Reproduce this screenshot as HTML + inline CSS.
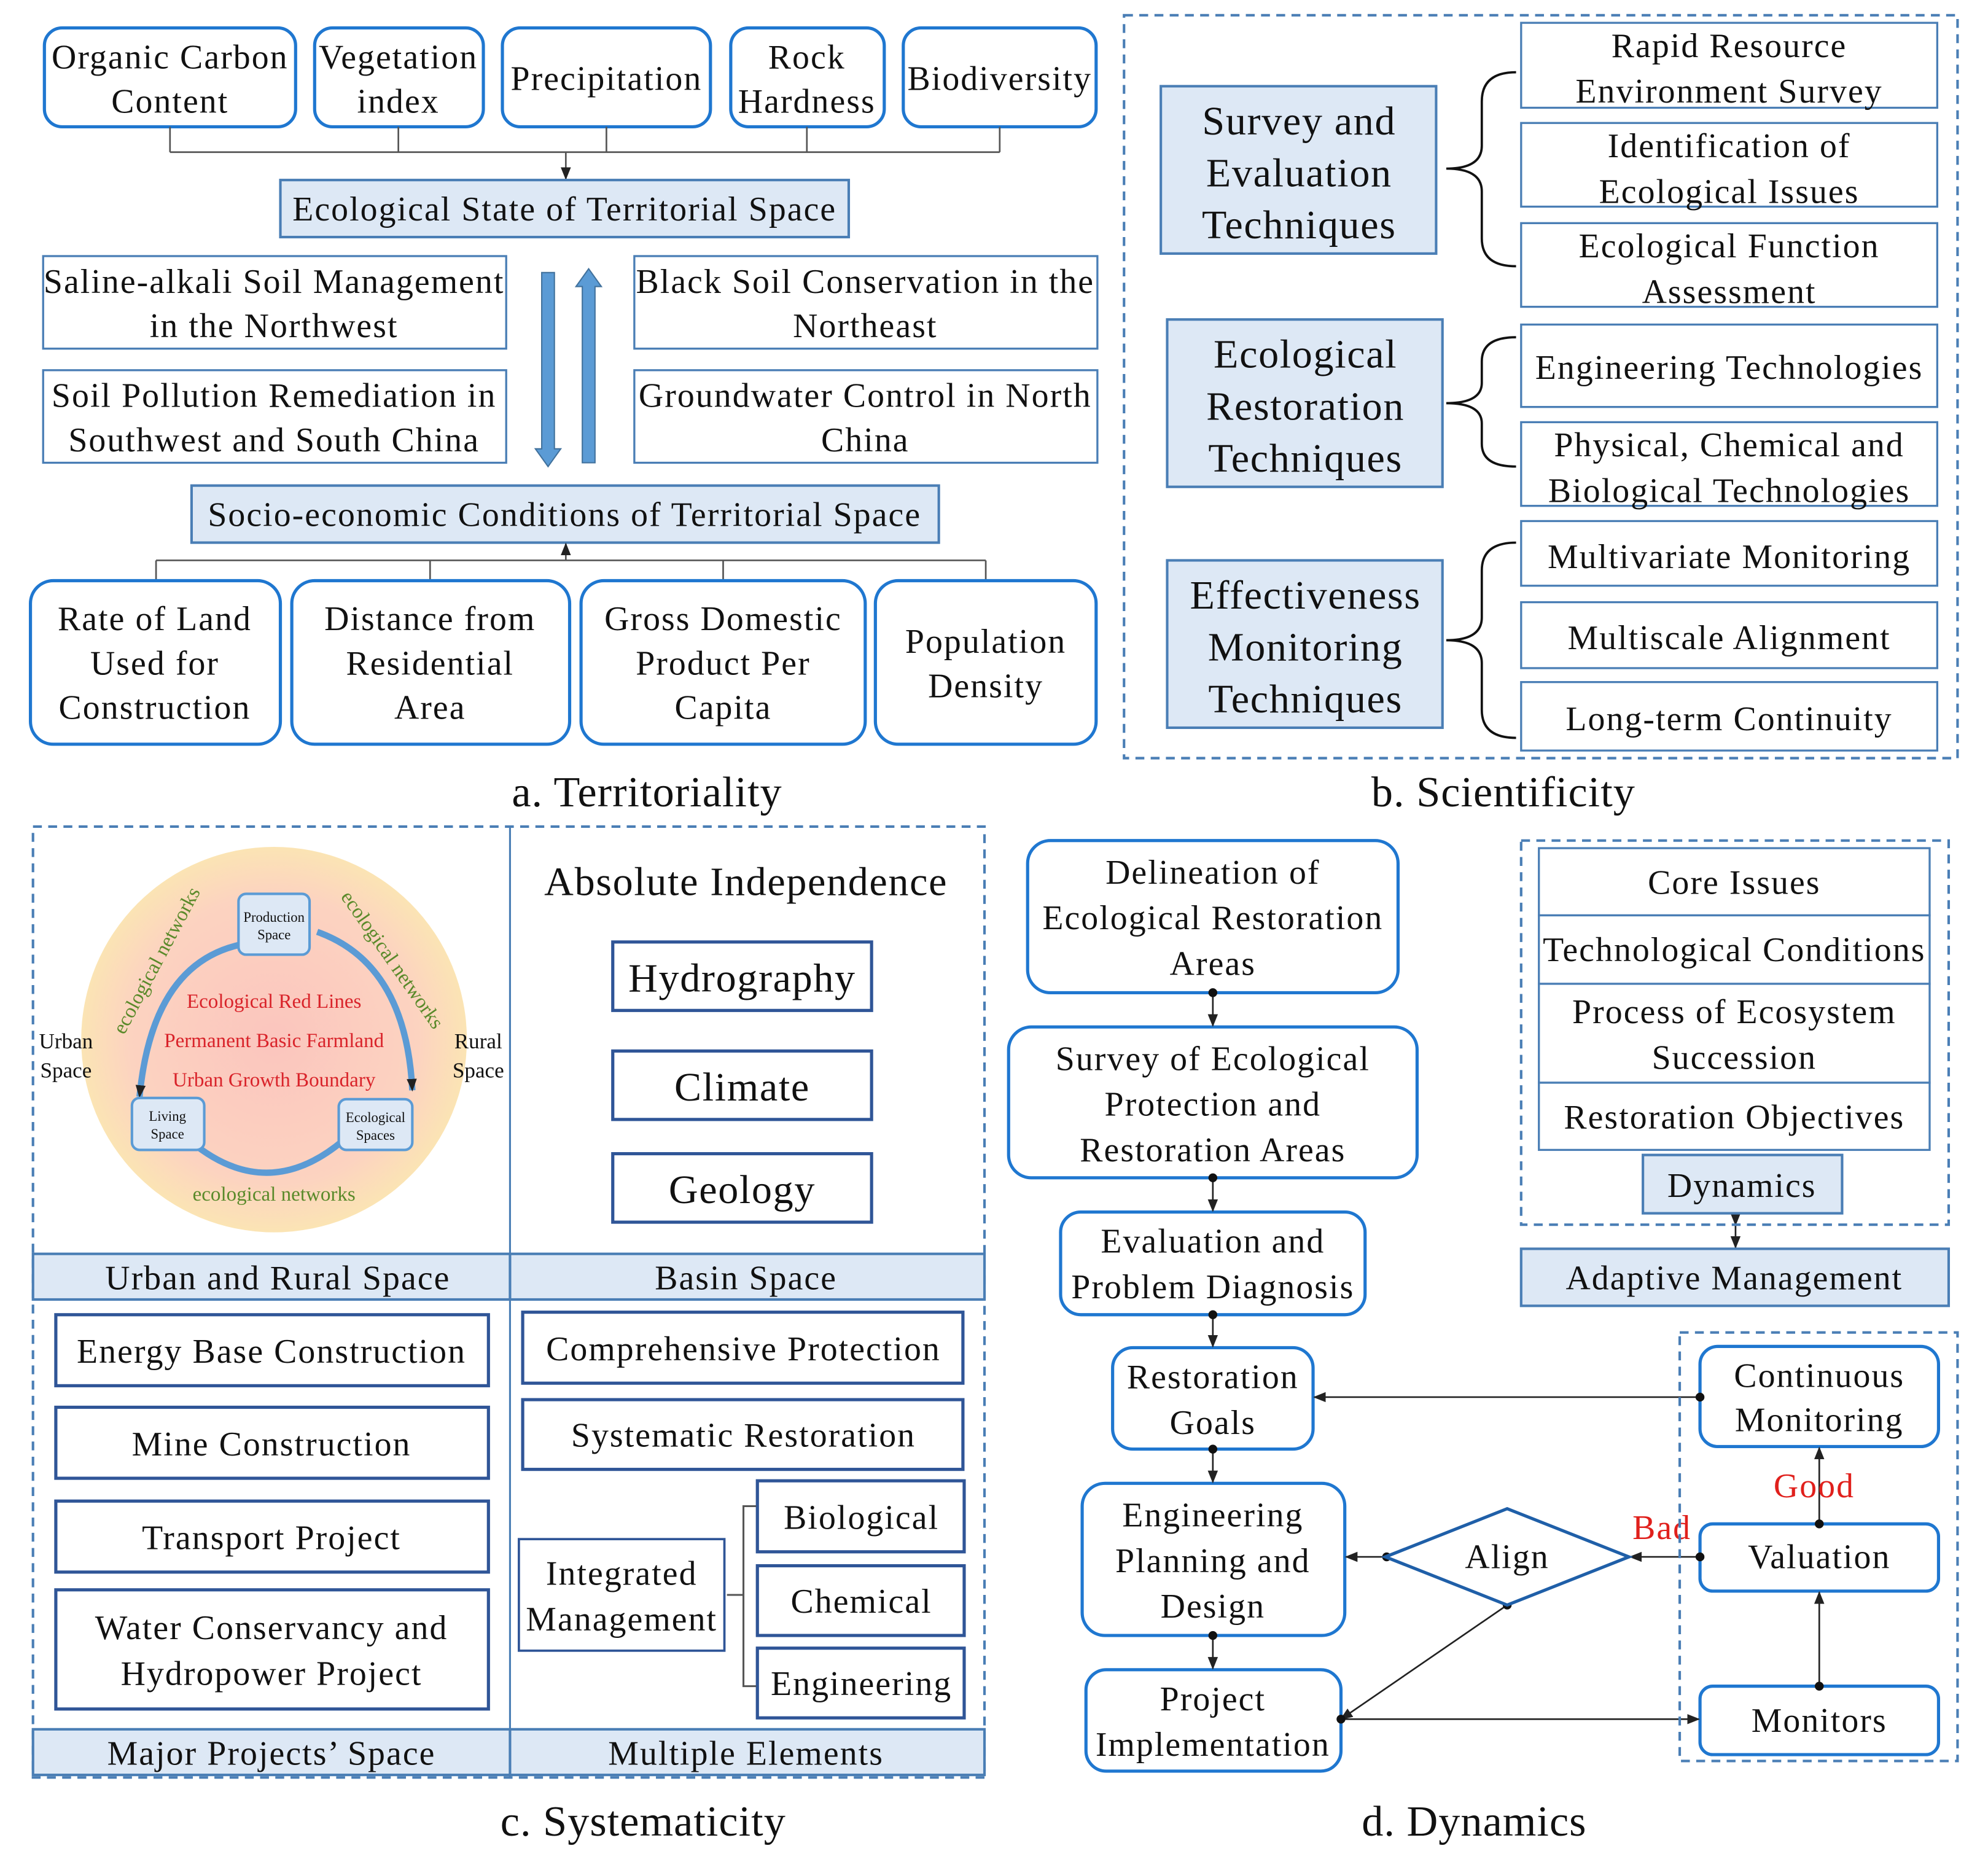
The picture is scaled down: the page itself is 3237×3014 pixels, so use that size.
<!DOCTYPE html>
<html><head><meta charset="utf-8"><style>
html,body{margin:0;padding:0;background:#fff;}
svg{display:block;}
text{font-family:"Liberation Serif",serif;fill:#111;}
</style></head><body>
<svg width="3237" height="3014" viewBox="0 0 1567 1460" preserveAspectRatio="none" xmlns="http://www.w3.org/2000/svg">
<defs>
<marker id="ar" markerWidth="10" markerHeight="10" refX="9" refY="5" orient="auto" markerUnits="userSpaceOnUse"><path d="M0,1 L10,5 L0,9 z" fill="#222"/></marker>
<marker id="dt" markerWidth="8" markerHeight="8" refX="4" refY="4" markerUnits="userSpaceOnUse"><circle cx="4" cy="4" r="3.5" fill="#111"/></marker>
<radialGradient id="cg" cx="0.5" cy="0.5" r="0.5"><stop offset="0" stop-color="#fbc5be"/><stop offset="0.75" stop-color="#fcd3c0"/><stop offset="1" stop-color="#fbe4b4"/></radialGradient>
</defs>
<style>
.rb{fill:#fff;stroke:#1f77d0;stroke-width:2.5;}
.sb{fill:#fff;stroke:#4a7eb5;stroke-width:1.6;}
.fb{fill:#dde8f5;stroke:#4a7eb5;stroke-width:2;}
.db{fill:#fff;stroke:#2f5597;stroke-width:2.5;}
.dash{fill:none;stroke:#4a7eb5;stroke-width:2;stroke-dasharray:7,5;}
.ln{stroke:#555;stroke-width:1.3;fill:none;}
.t{font-size:27px;text-anchor:middle;letter-spacing:1px;}
.tb{font-size:32px;text-anchor:middle;letter-spacing:0.8px;}
.cap{font-size:34px;text-anchor:middle;letter-spacing:0.5px;}
</style>

<!-- Panel a -->
<rect class="rb" x="35" y="22" width="198" height="78" rx="14"/>
<text class="t" x="134" y="54">Organic Carbon</text><text class="t" x="134" y="89">Content</text>
<rect class="rb" x="248" y="22" width="133" height="78" rx="14"/>
<text class="t" x="314" y="54">Vegetation</text><text class="t" x="314" y="89">index</text>
<rect class="rb" x="396" y="22" width="164" height="78" rx="14"/>
<text class="t" x="478" y="71">Precipitation</text>
<rect class="rb" x="576" y="22" width="121" height="78" rx="14"/>
<text class="t" x="636" y="54">Rock</text><text class="t" x="636" y="89">Hardness</text>
<rect class="rb" x="712" y="22" width="152" height="78" rx="14"/>
<text class="t" x="788" y="71">Biodiversity</text>
<path class="ln" d="M134,100V120 M314,100V120 M478,100V120 M636,100V120 M788,100V120 M134,120H788"/>
<line class="ln" x1="446" y1="120" x2="446" y2="141" marker-end="url(#ar)"/>
<rect class="fb" x="221" y="142" width="448" height="45"/>
<text class="t" x="445" y="174">Ecological State of Territorial Space</text>
<rect class="sb" x="34" y="202" width="365" height="73"/>
<text class="t" x="216" y="231">Saline-alkali Soil Management</text><text class="t" x="216" y="266">in the Northwest</text>
<rect class="sb" x="34" y="292" width="365" height="73"/>
<text class="t" x="216" y="321">Soil Pollution Remediation in</text><text class="t" x="216" y="356">Southwest and South China</text>
<rect class="sb" x="500" y="202" width="365" height="73"/>
<text class="t" x="682" y="231">Black Soil Conservation in the</text><text class="t" x="682" y="266">Northeast</text>
<rect class="sb" x="500" y="292" width="365" height="73"/>
<text class="t" x="682" y="321">Groundwater Control in North</text><text class="t" x="682" y="356">China</text>
<path d="M427,215H437V354H442L432,368L422,354H427Z" fill="#5b9bd5" stroke="#41719c" stroke-width="1"/>
<path d="M459,365H469V226H474L464,212L454,226H459Z" fill="#5b9bd5" stroke="#41719c" stroke-width="1"/>
<rect class="fb" x="151" y="383" width="589" height="45"/>
<text class="t" x="445" y="415">Socio-economic Conditions of Territorial Space</text>
<path class="ln" d="M123,442H777 M123,442V458 M339,442V458 M570,442V458 M777,442V458"/>
<line class="ln" x1="446" y1="442" x2="446" y2="429" marker-end="url(#ar)"/>
<rect class="rb" x="24" y="458" width="197" height="129" rx="18"/>
<text class="t" x="122" y="497">Rate of Land</text><text class="t" x="122" y="532">Used for</text><text class="t" x="122" y="567">Construction</text>
<rect class="rb" x="230" y="458" width="219" height="129" rx="18"/>
<text class="t" x="339" y="497">Distance from</text><text class="t" x="339" y="532">Residential</text><text class="t" x="339" y="567">Area</text>
<rect class="rb" x="458" y="458" width="224" height="129" rx="18"/>
<text class="t" x="570" y="497">Gross Domestic</text><text class="t" x="570" y="532">Product Per</text><text class="t" x="570" y="567">Capita</text>
<rect class="rb" x="690" y="458" width="174" height="129" rx="18"/>
<text class="t" x="777" y="515">Population</text><text class="t" x="777" y="550">Density</text>
<text class="cap" x="510" y="636">a. Territoriality</text>

<!-- Panel b -->
<rect class="dash" x="886" y="12" width="657" height="586"/>
<rect class="fb" x="915" y="68" width="217" height="132"/>
<text class="tb" x="1024" y="106">Survey and</text><text class="tb" x="1024" y="147">Evaluation</text><text class="tb" x="1024" y="188">Techniques</text>
<rect class="fb" x="920" y="252" width="217" height="132"/>
<text class="tb" x="1029" y="290">Ecological</text><text class="tb" x="1029" y="331">Restoration</text><text class="tb" x="1029" y="372">Techniques</text>
<rect class="fb" x="920" y="442" width="217" height="132"/>
<text class="tb" x="1029" y="480">Effectiveness</text><text class="tb" x="1029" y="521">Monitoring</text><text class="tb" x="1029" y="562">Techniques</text>
<g class="sb">
<rect x="1199" y="18" width="328" height="67"/><rect x="1199" y="97" width="328" height="66"/><rect x="1199" y="176" width="328" height="66"/>
<rect x="1199" y="256" width="328" height="65"/><rect x="1199" y="333" width="328" height="66"/>
<rect x="1199" y="411" width="328" height="51"/><rect x="1199" y="475" width="328" height="52"/><rect x="1199" y="538" width="328" height="54"/>
</g>
<text class="t" x="1363" y="45">Rapid Resource</text><text class="t" x="1363" y="81">Environment Survey</text>
<text class="t" x="1363" y="124">Identification of</text><text class="t" x="1363" y="160">Ecological Issues</text>
<text class="t" x="1363" y="203">Ecological Function</text><text class="t" x="1363" y="239">Assessment</text>
<text class="t" x="1363" y="299">Engineering Technologies</text>
<text class="t" x="1363" y="360">Physical, Chemical and</text><text class="t" x="1363" y="396">Biological Technologies</text>
<text class="t" x="1363" y="448">Multivariate Monitoring</text>
<text class="t" x="1363" y="512">Multiscale Alignment</text>
<text class="t" x="1363" y="576">Long-term Continuity</text>
<g fill="none" stroke="#111" stroke-width="1.8">
<path d="M1195,57Q1168,57 1168,80V115Q1168,133 1140,133Q1168,133 1168,151V188Q1168,210 1195,210"/>
<path d="M1195,266Q1168,266 1168,285V302Q1168,318 1140,318Q1168,318 1168,334V350Q1168,368 1195,368"/>
<path d="M1195,428Q1168,428 1168,450V487Q1168,505 1140,505Q1168,505 1168,523V560Q1168,582 1195,582"/>
</g>
<text class="cap" x="1185" y="636">b. Scientificity</text>

<!-- Panel c -->
<rect class="dash" x="26" y="652" width="750" height="750"/>
<line x1="402" y1="652" x2="402" y2="1402" stroke="#4a7eb5" stroke-width="1.5"/>
<circle cx="216" cy="820" r="152" fill="url(#cg)"/>
<path d="M190,745Q120,760 110,865" fill="none" stroke="#5b9bd5" stroke-width="5" marker-end="url(#ar)"/>
<path d="M250,735Q320,760 325,860" fill="none" stroke="#5b9bd5" stroke-width="5" marker-end="url(#ar)"/>
<path d="M150,900Q210,950 270,900" fill="none" stroke="#5b9bd5" stroke-width="5"/>
<rect x="188" y="705" width="56" height="48" rx="6" fill="#dde8f5" stroke="#5b9bd5" stroke-width="2"/>
<text x="216" y="727" font-size="11" text-anchor="middle">Production</text><text x="216" y="741" font-size="11" text-anchor="middle">Space</text>
<rect x="104" y="866" width="57" height="41" rx="6" fill="#dde8f5" stroke="#5b9bd5" stroke-width="2"/>
<text x="132" y="884" font-size="11" text-anchor="middle">Living</text><text x="132" y="898" font-size="11" text-anchor="middle">Space</text>
<rect x="267" y="867" width="58" height="40" rx="6" fill="#dde8f5" stroke="#5b9bd5" stroke-width="2"/>
<text x="296" y="885" font-size="11" text-anchor="middle">Ecological</text><text x="296" y="899" font-size="11" text-anchor="middle">Spaces</text>
<text x="216" y="795" font-size="16" text-anchor="middle" style="fill:#d9232a">Ecological Red Lines</text>
<text x="216" y="826" font-size="16" text-anchor="middle" style="fill:#d9232a">Permanent Basic Farmland</text>
<text x="216" y="857" font-size="16" text-anchor="middle" style="fill:#d9232a">Urban Growth Boundary</text>
<text x="216" y="947" font-size="16" text-anchor="middle" style="fill:#5a8a2a">ecological networks</text>
<text x="0" y="0" font-size="16" text-anchor="middle" style="fill:#5a8a2a" transform="translate(128,760) rotate(-62)">ecological networks</text>
<text x="0" y="0" font-size="16" text-anchor="middle" style="fill:#5a8a2a" transform="translate(305,760) rotate(55)">ecological networks</text>
<text x="52" y="827" font-size="17" text-anchor="middle">Urban</text><text x="52" y="850" font-size="17" text-anchor="middle">Space</text>
<text x="377" y="827" font-size="17" text-anchor="middle">Rural</text><text x="377" y="850" font-size="17" text-anchor="middle">Space</text>
<text class="tb" x="588" y="706">Absolute Independence</text>
<rect class="db" x="483" y="743" width="204" height="54"/><text class="tb" x="585" y="782">Hydrography</text>
<rect class="db" x="483" y="829" width="204" height="54"/><text class="tb" x="585" y="868">Climate</text>
<rect class="db" x="483" y="910" width="204" height="54"/><text class="tb" x="585" y="949">Geology</text>
<rect class="fb" x="26" y="989" width="750" height="36"/>
<line x1="402" y1="989" x2="402" y2="1025" stroke="#4a7eb5" stroke-width="2"/>
<text class="t" x="219" y="1017">Urban and Rural Space</text><text class="t" x="588" y="1017">Basin Space</text>
<g class="db">
<rect x="44" y="1037" width="341" height="56"/><rect x="44" y="1110" width="341" height="56"/><rect x="44" y="1184" width="341" height="56"/><rect x="44" y="1254" width="341" height="94"/>
<rect x="412" y="1035" width="347" height="56"/><rect x="412" y="1104" width="347" height="55"/>
<rect x="409" y="1214" width="162" height="88" style="stroke-width:1.8"/>
<rect x="597" y="1168" width="163" height="56"/><rect x="597" y="1235" width="163" height="55"/><rect x="597" y="1300" width="163" height="55"/>
</g>
<text class="t" x="214" y="1075">Energy Base Construction</text>
<text class="t" x="214" y="1148">Mine Construction</text>
<text class="t" x="214" y="1222">Transport Project</text>
<text class="t" x="214" y="1293">Water Conservancy and</text><text class="t" x="214" y="1329">Hydropower Project</text>
<text class="t" x="586" y="1073">Comprehensive Protection</text>
<text class="t" x="586" y="1141">Systematic Restoration</text>
<text class="t" x="490" y="1250">Integrated</text><text class="t" x="490" y="1286">Management</text>
<text class="t" x="679" y="1206">Biological</text>
<text class="t" x="679" y="1272">Chemical</text>
<text class="t" x="679" y="1337">Engineering</text>
<path d="M596,1188H586V1330H596 M586,1258H573" fill="none" stroke="#555" stroke-width="1.5"/>
<rect class="fb" x="26" y="1364" width="750" height="36"/>
<line x1="402" y1="1364" x2="402" y2="1400" stroke="#4a7eb5" stroke-width="2"/>
<text class="t" x="214" y="1392">Major Projects’ Space</text><text class="t" x="588" y="1392">Multiple Elements</text>
<text class="cap" x="507" y="1448">c. Systematicity</text>

<!-- Panel d -->
<g class="rb">
<rect x="810" y="663" width="292" height="120" rx="18"/>
<rect x="795" y="810" width="322" height="119" rx="18"/>
<rect x="836" y="956" width="240" height="81" rx="16"/>
<rect x="877" y="1063" width="158" height="80" rx="16"/>
<rect x="853" y="1170" width="207" height="120" rx="18"/>
<rect x="856" y="1317" width="201" height="80" rx="16"/>
<rect x="1340" y="1062" width="188" height="79" rx="14"/>
<rect x="1340" y="1202" width="188" height="53" rx="10"/>
<rect x="1340" y="1330" width="188" height="54" rx="10"/>
</g>
<text class="t" x="956" y="697">Delineation of</text><text class="t" x="956" y="733">Ecological Restoration</text><text class="t" x="956" y="769">Areas</text>
<text class="t" x="956" y="844">Survey of Ecological</text><text class="t" x="956" y="880">Protection and</text><text class="t" x="956" y="916">Restoration Areas</text>
<text class="t" x="956" y="988">Evaluation and</text><text class="t" x="956" y="1024">Problem Diagnosis</text>
<text class="t" x="956" y="1095">Restoration</text><text class="t" x="956" y="1131">Goals</text>
<text class="t" x="956" y="1204">Engineering</text><text class="t" x="956" y="1240">Planning and</text><text class="t" x="956" y="1276">Design</text>
<text class="t" x="956" y="1349">Project</text><text class="t" x="956" y="1385">Implementation</text>
<g stroke="#222" stroke-width="1.3">
<line x1="956" y1="783" x2="956" y2="809" marker-start="url(#dt)" marker-end="url(#ar)"/>
<line x1="956" y1="929" x2="956" y2="955" marker-start="url(#dt)" marker-end="url(#ar)"/>
<line x1="956" y1="1037" x2="956" y2="1062" marker-start="url(#dt)" marker-end="url(#ar)"/>
<line x1="956" y1="1143" x2="956" y2="1169" marker-start="url(#dt)" marker-end="url(#ar)"/>
<line x1="956" y1="1290" x2="956" y2="1316" marker-start="url(#dt)" marker-end="url(#ar)"/>
<line x1="1340" y1="1102" x2="1036" y2="1102" marker-start="url(#dt)" marker-end="url(#ar)"/>
<line x1="1340" y1="1228" x2="1285" y2="1228" marker-start="url(#dt)" marker-end="url(#ar)"/>
<line x1="1093" y1="1228" x2="1061" y2="1228" marker-start="url(#dt)" marker-end="url(#ar)"/>
<line x1="1188" y1="1266" x2="1057" y2="1356" marker-start="url(#dt)" marker-end="url(#ar)"/>
<line x1="1057" y1="1356" x2="1339" y2="1356" marker-start="url(#dt)" marker-end="url(#ar)"/>
<line x1="1434" y1="1330" x2="1434" y2="1256" marker-start="url(#dt)" marker-end="url(#ar)"/>
<line x1="1434" y1="1202" x2="1434" y2="1142" marker-start="url(#dt)" marker-end="url(#ar)"/>
<line x1="1368" y1="966" x2="1368" y2="984" marker-start="url(#ar)" marker-end="url(#ar)"/>
</g>
<path d="M1092,1228L1188,1190L1284,1228L1188,1266Z" fill="#fff" stroke="#1f5fa8" stroke-width="2.5"/>
<text class="t" x="1188" y="1237">Align</text>
<text class="t" x="1310" y="1214" style="fill:#e0201c">Bad</text>
<text class="t" x="1430" y="1181" style="fill:#e0201c">Good</text>
<text class="t" x="1434" y="1094">Continuous</text><text class="t" x="1434" y="1129">Monitoring</text>
<text class="t" x="1434" y="1237">Valuation</text>
<text class="t" x="1434" y="1366">Monitors</text>
<rect class="dash" x="1199" y="663" width="337" height="303"/>
<g class="sb">
<rect x="1213" y="669" width="308" height="53"/><rect x="1213" y="722" width="308" height="54"/><rect x="1213" y="776" width="308" height="78"/><rect x="1213" y="854" width="308" height="53"/>
</g>
<text class="t" x="1367" y="705">Core Issues</text>
<text class="t" x="1367" y="758">Technological Conditions</text>
<text class="t" x="1367" y="807">Process of Ecosystem</text><text class="t" x="1367" y="843">Succession</text>
<text class="t" x="1367" y="890">Restoration Objectives</text>
<rect class="fb" x="1295" y="911" width="157" height="46"/>
<text class="t" x="1373" y="944">Dynamics</text>
<rect class="fb" x="1199" y="985" width="337" height="45"/>
<text class="t" x="1367" y="1017">Adaptive Management</text>
<rect class="dash" x="1324" y="1051" width="219" height="338"/>
<text class="cap" x="1162" y="1448">d. Dynamics</text>
</svg>
</body></html>
